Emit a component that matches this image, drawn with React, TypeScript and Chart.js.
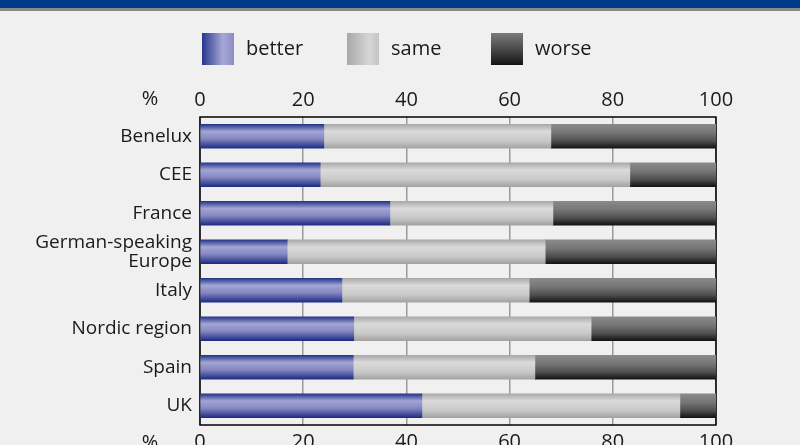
import React, { useEffect, useRef } from "react";
import { Chart, registerables } from "chart.js";

Chart.register(...registerables);

const categories: (string | string[])[] = [
  "Benelux",
  "CEE",
  "France",
  ["German-speaking", "Europe"],
  "Italy",
  "Nordic region",
  "Spain",
  "UK",
];
const seriesLabels = ["better", "same", "worse"];
const better = [24.0, 23.3, 36.8, 16.9, 27.5, 29.8, 29.7, 43.0];
const same = [44.0, 60.0, 31.6, 50.0, 36.3, 46.0, 35.2, 50.0];
const worse = [32.0, 16.7, 31.6, 33.1, 36.2, 24.2, 35.1, 7.0];
const axisUnit = "%";

const FONT = "'Open Sans', 'Noto Sans', sans-serif";
const TEXT = "#1a1a1a";
const BAR_H = 24;

const barStops: [number, string][][] = [
  [
    [0, "#25348a"],
    [0.3, "#a3a5d4"],
    [0.6, "#8688c2"],
    [1, "#1c2c84"],
  ],
  [
    [0, "#a9a9a9"],
    [0.3, "#dadada"],
    [0.7, "#c8c8c8"],
    [1, "#a2a2a2"],
  ],
  [
    [0, "#8a8a8a"],
    [0.35, "#767676"],
    [0.7, "#4e4e4e"],
    [1, "#131313"],
  ],
];
const solid = ["#5a5fa8", "#c8c8c8", "#555555"];

function barGradient(si: number) {
  return (ctx: any) => {
    const chart = ctx.chart;
    const ys = chart.scales?.y;
    if (!ys || ctx.dataIndex == null || ctx.type !== "data") return solid[si];
    const cy = ys.getPixelForValue(ctx.dataIndex);
    if (!Number.isFinite(cy)) return solid[si];
    const g = chart.ctx.createLinearGradient(0, cy - BAR_H / 2, 0, cy + BAR_H / 2);
    barStops[si].forEach(([o, c]) => g.addColorStop(o, c));
    return g;
  };
}

const decorPlugin = {
  id: "decor",
  beforeDraw(chart: any) {
    const c = chart.ctx;
    c.save();
    c.fillStyle = "#f0f0f0";
    c.fillRect(0, 0, chart.width, chart.height);
    c.fillStyle = "#003a8a";
    c.fillRect(0, 0, chart.width, 8);
    c.fillStyle = "#8a8a8a";
    c.fillRect(0, 8, chart.width, 3);
    c.restore();
  },
  beforeDatasetsDraw(chart: any) {
    const c = chart.ctx;
    const a = chart.chartArea;
    c.save();
    c.strokeStyle = "#000";
    c.lineWidth = 1.5;
    c.strokeRect(a.left, a.top, a.right - a.left, a.bottom - a.top);
    c.restore();
  },
  afterDraw(chart: any) {
    const c = chart.ctx;
    const a = chart.chartArea;
    c.save();
    c.fillStyle = TEXT;
    c.font = `20px ${FONT}`;
    c.textAlign = "center";
    c.textBaseline = "middle";
    c.fillText(axisUnit, 150, 99);
    c.fillText(axisUnit, 150, a.bottom + 18);
    const xs = [202, 347, 491];
    const top = 33;
    const sw = 32;
    const sh = 32;
    chart.data.datasets.forEach((ds: any, i: number) => {
      const x = xs[i];
      let g: CanvasGradient;
      if (i === 0) {
        g = c.createLinearGradient(x, 0, x + sw, 0);
        g.addColorStop(0, "#26368c");
        g.addColorStop(0.65, "#a7a7d6");
        g.addColorStop(1, "#8c8cc6");
      } else if (i === 1) {
        g = c.createLinearGradient(x, 0, x + sw, 0);
        g.addColorStop(0, "#a8a8a8");
        g.addColorStop(0.7, "#d6d6d6");
        g.addColorStop(1, "#c4c4c4");
      } else {
        g = c.createLinearGradient(0, top, 0, top + sh);
        g.addColorStop(0, "#7a7a7a");
        g.addColorStop(0.5, "#4a4a4a");
        g.addColorStop(1, "#141414");
      }
      c.fillStyle = g;
      c.fillRect(x, top, sw, sh);
      c.fillStyle = TEXT;
      c.font = `20px ${FONT}`;
      c.textAlign = "left";
      c.textBaseline = "middle";
      c.fillText(ds.label, x + 44, top + sh / 2);
    });
    c.restore();
  },
};

export default function App() {
  const ref = useRef<HTMLCanvasElement | null>(null);
  useEffect(() => {
    if (!ref.current) return;
    const data = [better, same, worse];
    const chart = new Chart(ref.current, {
      type: "bar",
      data: {
        labels: categories as any,
        datasets: data.map((d, i) => ({
          label: seriesLabels[i],
          data: d,
          xAxisID: "x",
          backgroundColor: barGradient(i) as any,
          borderWidth: 0,
          barThickness: BAR_H,
        })),
      },
      options: {
        indexAxis: "y",
        animation: false,
        responsive: false,
        events: [],
        layout: { padding: { top: 87, right: 84, left: 0, bottom: 0 } },
        plugins: { legend: { display: false }, tooltip: { enabled: false } },
        scales: {
          x: {
            type: "linear",
            position: "top",
            stacked: true,
            min: 0,
            max: 100,
            ticks: { stepSize: 20, color: TEXT, font: { family: FONT, size: 20 }, padding: 5 },
            grid: { color: "#9a9a9a", lineWidth: 1.5, drawTicks: false },
            border: { display: false },
            afterFit: (s: any) => {
              s.height = 30;
            },
          },
          x2: {
            type: "linear",
            position: "bottom",
            min: 0,
            max: 100,
            ticks: { stepSize: 20, color: TEXT, font: { family: FONT, size: 20 }, padding: 5 },
            grid: { display: false, drawTicks: false },
            border: { display: false },
            afterFit: (s: any) => {
              s.height = 20;
            },
          },
          y: {
            type: "category",
            stacked: true,
            ticks: {
              autoSkip: false,
              color: TEXT,
              font: { family: FONT, size: 19, lineHeight: 1.0 },
              padding: 8,
            },
            grid: { display: false, drawTicks: false },
            border: { display: false },
            afterFit: (s: any) => {
              s.width = 200;
            },
          },
        },
      },
      plugins: [decorPlugin],
    });
    return () => chart.destroy();
  }, []);
  return (
    <div style={{ position: "absolute", left: 0, top: 0, width: 800, height: 445, overflow: "hidden" }}>
      <canvas ref={ref} width={800} height={445} style={{ display: "block", width: 800, height: 445 }} />
    </div>
  );
}
